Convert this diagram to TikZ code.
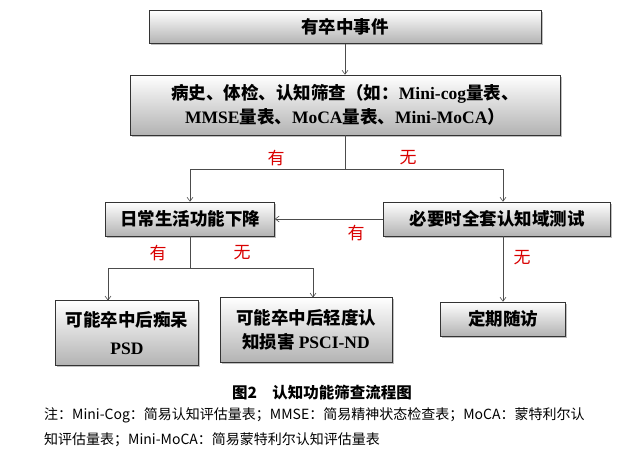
\documentclass[tikz,border=0pt]{standalone}
\usepackage{fontspec}
\setmainfont{Liberation Serif}
\newfontfamily\cjk{Noto Sans CJK SC}
\usetikzlibrary{positioning,shadows,arrows.meta}

\begin{document}
\begin{tikzpicture}[x=1pt, y=-1pt,
        every node/.style={align=center, inner sep=0pt},
        stepBox/.style={draw=black!80, line width=0.6pt, top color=white, bottom color=black!30,
                        drop shadow={shadow xshift=1.5pt, shadow yshift=-1.5pt, opacity=0.5},
                        font=\fontsize{17.5}{24}\selectfont\bfseries\cjk},
        flowArrow/.style={draw=black!70, line width=0.6pt, -{Straight Barb[length=4pt,width=6pt]}},
        flowLine/.style={draw=black!70, line width=0.6pt},
        yesNo/.style={text=red!85!black, font=\fontsize{17}{17}\selectfont\cjk}
    ]
    \useasboundingbox (0,0) rectangle (644,460);

    % boxes
    \node[stepBox, minimum width=392, minimum height=33] (event) at (345,27) {有卒中事件};
    \node[stepBox, minimum width=430, minimum height=60] (screen) at (345,105)
        {病史、体检、认知筛查（如：{\rmfamily Mini-cog}量表、\\{\rmfamily MMSE}量表、{\rmfamily MoCA}量表、{\rmfamily Mini-MoCA}）};
    \node[stepBox, minimum width=169, minimum height=34] (adl) at (190,219) {日常生活功能下降};
    \node[stepBox, minimum width=227, minimum height=34] (fulltest) at (497,219) {必要时全套认知域测试};
    \node[stepBox, minimum width=143, minimum height=65] (psd) at (127,333) {可能卒中后痴呆\\[4pt]{\rmfamily PSD}};
    \node[stepBox, minimum width=172, minimum height=65] (pscind) at (306,330) {可能卒中后轻度认\\知损害 {\rmfamily PSCI-ND}};
    \node[stepBox, minimum width=125, minimum height=34] (followup) at (503,319) {定期随访};

    % connectors
    \draw[flowArrow] (event) -- (screen);
    \coordinate (split) at (345,169);
    \draw[flowLine] (screen) -- (split);
    \draw[flowArrow] (split) -| (adl);
    \draw[flowArrow] (split) -| (fulltest.north -| followup);
    \draw[flowArrow] (fulltest) -- (adl);
    \coordinate (split2) at (190,268);
    \draw[flowLine] (adl.south -| split2) -- (split2);
    \draw[flowArrow] (split2) -| (108,300.5);
    \draw[flowArrow] (split2) -| (313,297.5);
    \draw[flowArrow] (fulltest.south -| followup) -- (followup);

    % labels
    \node[yesNo] (yes1) at (276,158) {有};
    \node[yesNo] (no1) at (408,158) {无};
    \node[yesNo] (yes2) at (356,233) {有};
    \node[yesNo] (yes3) at (158,253) {有};
    \node[yesNo] (no2) at (242,253) {无};
    \node[yesNo] (no3) at (522,258) {无};

    % caption and note
    \node[font=\fontsize{15.5}{15}\selectfont\bfseries\cjk] (caption) at (322,393) {图2\quad 认知功能筛查流程图};
    \node[anchor=west, align=left, font=\fontsize{14}{25}\selectfont\cjk] (note) at (44,427)
        {注：Mini-Cog：简易认知评估量表；MMSE：简易精神状态检查表；MoCA：蒙特利尔认\\知评估量表；Mini-MoCA：简易蒙特利尔认知评估量表};
\end{tikzpicture}
\end{document}
